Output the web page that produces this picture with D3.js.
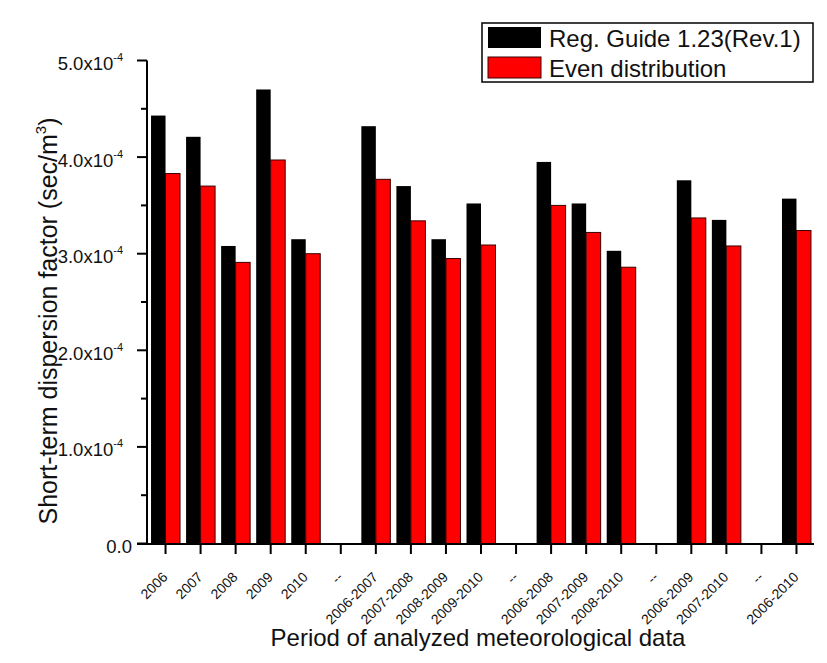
<!DOCTYPE html>
<html>
<head>
<meta charset="utf-8">
<script src="https://cdn.jsdelivr.net/npm/d3@7"></script>
<style>
  body { margin: 0; background: #fff; }
  svg { display: block; font-family: Arial, "Liberation Sans", sans-serif; }
</style>
</head>
<body>
<svg id="chart" width="827" height="663"></svg>
<script>
// Data (values in units of 1e-4 sec/m^3)
const categories = ["2006","2007","2008","2009","2010","--","2006-2007","2007-2008","2008-2009","2009-2010","--","2006-2008","2007-2009","2008-2010","--","2006-2009","2007-2010","--","2006-2010"];
const regGuide = [4.43, 4.21, 3.08, 4.70, 3.15, null, 4.32, 3.70, 3.15, 3.52, null, 3.95, 3.52, 3.03, null, 3.76, 3.35, null, 3.57];
const evenDist = [3.83, 3.70, 2.91, 3.97, 3.00, null, 3.77, 3.34, 2.95, 3.09, null, 3.50, 3.22, 2.86, null, 3.37, 3.08, null, 3.24];
const seriesNames = ["Reg. Guide 1.23(Rev.1)", "Even distribution"];
const seriesColors = ["#000000", "#ff0000"];
const yTicks = [0, 1, 2, 3, 4, 5];
const yTickLabels = ["0.0", "1.0x10", "2.0x10", "3.0x10", "4.0x10", "5.0x10"];

const svg = d3.select("#chart");
const keys = categories.map((c, i) => i);

const x = d3.scaleBand().domain(keys).range([148, 814]).padding(0);
const y = d3.scaleLinear().domain([0, 5]).range([543.5, 60.5]);
const x1 = d3.scaleBand().domain([0, 1]).range([0, 29]).padding(0);

// bars
const data = categories.map((c, i) => ({ i, vals: [regGuide[i], evenDist[i]] }));
const groups = svg.append("g").selectAll("g").data(data).join("g")
  .attr("transform", d => `translate(${x(d.i) + x.bandwidth() / 2 - 14.5},0)`);
groups.selectAll("rect")
  .data(d => d.vals.map((v, s) => ({ v, s })).filter(e => e.v !== null))
  .join("rect")
  .attr("x", e => x1(e.s))
  .attr("width", x1.bandwidth())
  .attr("y", e => y(e.v))
  .attr("height", e => y(0) - y(e.v))
  .attr("fill", e => seriesColors[e.s])
  .attr("stroke", e => e.s === 1 ? "#3a0000" : "none")
  .attr("stroke-width", 1);

// y axis
const yAxis = svg.append("g").attr("transform", "translate(147,0)");
yAxis.append("line").attr("x1", 0).attr("x2", 0).attr("y1", y(5)).attr("y2", y(0) + 1)
  .attr("stroke", "#000").attr("stroke-width", 2);
const minor = d3.range(0.5, 5, 1);
yAxis.selectAll(".minor").data(minor).join("line")
  .attr("x1", 0).attr("x2", -6).attr("y1", d => y(d)).attr("y2", d => y(d))
  .attr("stroke", "#000").attr("stroke-width", 2);
yAxis.selectAll(".major").data(yTicks).join("line")
  .attr("x1", 0).attr("x2", -10).attr("y1", d => y(d)).attr("y2", d => y(d))
  .attr("stroke", "#000").attr("stroke-width", 2);
const yl = yAxis.selectAll(".lab").data(yTicks).join("text")
  .attr("x", d => d === 0 ? -15 : -24).attr("y", d => y(d) + 9.5)
  .attr("text-anchor", "end").attr("font-size", 18.5).attr("fill", "#111");
yl.each(function(d, i) {
  const t = d3.select(this);
  t.append("tspan").text(yTickLabels[i]);
  if (d !== 0) t.append("tspan").attr("font-size", 11).attr("dy", -9).text("-4");
});

// x axis
const xAxis = svg.append("g").attr("transform", "translate(0,544)");
xAxis.append("line").attr("x1", 137).attr("x2", 814).attr("y1", 0).attr("y2", 0)
  .attr("stroke", "#000").attr("stroke-width", 2);
xAxis.selectAll(".tick").data(keys).join("line")
  .attr("x1", d => x(d) + x.bandwidth() / 2).attr("x2", d => x(d) + x.bandwidth() / 2)
  .attr("y1", 0).attr("y2", 10).attr("stroke", "#000").attr("stroke-width", 2);
xAxis.selectAll(".xl").data(keys).join("text")
  .attr("transform", d => `translate(${x(d) + x.bandwidth() / 2 + 3},${34}) rotate(-45)`)
  .attr("text-anchor", "end").attr("font-size", 14).attr("fill", "#111")
  .text(d => categories[d]);

// axis titles
svg.append("text").attr("x", 478).attr("y", 645.5).attr("text-anchor", "middle")
  .attr("font-size", 24).attr("fill", "#111").text("Period of analyzed meteorological data");
const yt = svg.append("text").attr("transform", "translate(57,321) rotate(-90)")
  .attr("text-anchor", "middle").attr("font-size", 25).attr("fill", "#111");
yt.append("tspan").text("Short-term dispersion factor (sec/m");
yt.append("tspan").attr("font-size", 15).attr("dy", -11).text("3");
yt.append("tspan").attr("dy", 11).text(")");

// legend
const lg = svg.append("g");
lg.append("rect").attr("x", 482).attr("y", 23).attr("width", 331).attr("height", 59)
  .attr("fill", "#fff").attr("stroke", "#000").attr("stroke-width", 1.5);
const lItems = lg.selectAll(".li").data(seriesNames).join("g")
  .attr("transform", (d, i) => `translate(488,${27 + i * 30})`);
lItems.append("rect").attr("width", 53).attr("height", 21)
  .attr("fill", (d, i) => seriesColors[i])
  .attr("stroke", (d, i) => i === 1 ? "#3a0000" : "none");
lItems.append("text").attr("x", 61).attr("y", 19.5).attr("font-size", 24).attr("fill", "#111")
  .text(d => d);
</script>
</body>
</html>
